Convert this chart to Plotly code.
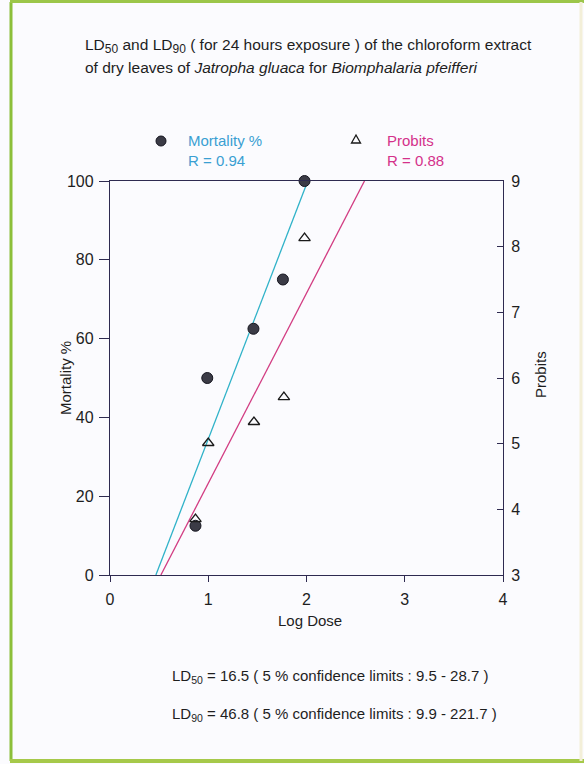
import plotly.graph_objects as go

# ---- data ----
log_dose = [0.87, 0.99, 1.46, 1.76, 1.98]
mortality = [12.5, 50, 62.5, 75, 100]
log_dose_p = [0.87, 1.0, 1.465, 1.77, 1.98]
probits = [3.85, 5.01, 5.33, 5.71, 8.13]
fit_mort_x = [0.467, 2.013]
fit_mort_y = [0, 100]
fit_prob_x = [0.518, 2.59]
fit_prob_y = [3, 9]
x_ticks = [0, 1, 2, 3, 4]
y_ticks = [0, 20, 40, 60, 80, 100]
y2_ticks = [3, 4, 5, 6, 7, 8, 9]

W, H = 584, 764
L, R, T, B = 110, 503, 181, 575
AX = "#2e2a50"
CYAN = "#2fb2c8"
PINK = "#d23c82"
TXT = "#1e1e1e"
FONT = "Liberation Sans, Arial, sans-serif"
FS = 15
TFS = 16


def px(x):
    return (x - L) / (R - L)


def py(y):
    return (B - y) / (B - T)


fig = go.Figure()
fig.add_trace(go.Scatter(x=fit_mort_x, y=fit_mort_y, mode="lines",
                         line=dict(color=CYAN, width=1.3), showlegend=False))
fig.add_trace(go.Scatter(x=fit_prob_x, y=fit_prob_y, mode="lines", yaxis="y2",
                         line=dict(color=PINK, width=1.3), showlegend=False))
fig.add_trace(go.Scatter(x=log_dose, y=mortality, mode="markers",
                         marker=dict(symbol="circle", size=11, color="#3b3b46",
                                     line=dict(color="#15151f", width=1)),
                         showlegend=False, cliponaxis=False))
fig.add_trace(go.Scatter(x=log_dose_p, y=probits, mode="markers", yaxis="y2",
                         marker=dict(symbol="triangle-up-open", size=10, color="#1a1a1a",
                                     line=dict(width=1.3)),
                         showlegend=False, cliponaxis=False))

big_sub = "<sub><span style='font-size:12px'>{}</span></sub>"


def ann(x, y, text, xanchor="center", size=FS, **kw):
    d = dict(x=px(x), y=py(y), xref="paper", yref="paper", xanchor=xanchor,
             yanchor="middle", text=text, showarrow=False,
             font=dict(size=size, color=kw.pop("color", TXT), family=FONT))
    d.update(kw)
    return d


annotations = [
    ann(83, 46, "LD" + big_sub.format("50") + " and LD" + big_sub.format("90")
        + " ( for 24 hours exposure ) of the chloroform extract", xanchor="left", size=15.5),
    ann(83, 68, "of dry leaves of <i>Jatropha gluaca</i> for <i>Biomphalaria pfeifferi</i>",
        xanchor="left", size=15.5),
    ann(186, 150, "Mortality %<br>R = 0.94", xanchor="left", align="left", color="#3a9fd2"),
    ann(385, 150, "Probits<br>R = 0.88", xanchor="left", align="left", color="#d4318a"),
    ann(65, 378, "Mortality %", textangle=-90),
    ann(540, 375, "Probits", textangle=-90),
    ann(310, 620, "Log Dose"),
    ann(170, 676, "LD<sub>50</sub> = 16.5 ( 5 % confidence limits : 9.5 - 28.7 )",
        xanchor="left"),
    ann(170, 714, "LD<sub>90</sub> = 46.8 ( 5 % confidence limits : 9.9 - 221.7 )",
        xanchor="left"),
]

# legend symbols (paper coords)
cx, cy, r = 161, 141, 5
tx, ty, tw, th = 356, 139, 9, 8
tri_path = "M {},{} L {},{} L {},{} Z".format(
    px(tx - tw / 2), py(ty + th / 2), px(tx + tw / 2), py(ty + th / 2), px(tx), py(ty - th / 2))

shapes = [
    dict(type="line", xref="paper", yref="paper", x0=px(11), x1=px(11), y0=py(2), y1=py(761),
         line=dict(color="#8cbf3a", width=3)),
    dict(type="line", xref="paper", yref="paper", x0=px(10), x1=px(584), y0=py(761), y1=py(761),
         line=dict(color="#a6c94a", width=4)),
    dict(type="line", xref="paper", yref="paper", x0=px(10), x1=px(584), y0=py(1.5), y1=py(1.5),
         line=dict(color="#9cc64a", width=3)),
    dict(type="line", xref="paper", yref="paper", x0=px(581), x1=px(581), y0=py(2), y1=py(761),
         line=dict(color="#f3efd8", width=3)),
    dict(type="circle", xref="paper", yref="paper", x0=px(cx - r), x1=px(cx + r),
         y0=py(cy + r), y1=py(cy - r), fillcolor="#3b3b46", line=dict(color="#15151f", width=1)),
    dict(type="path", xref="paper", yref="paper", path=tri_path,
         line=dict(color="#1a1a1a", width=1.3)),
]

fig.update_layout(
    width=W, height=H,
    margin=dict(l=L, r=W - R, t=T, b=H - B, autoexpand=False),
    paper_bgcolor="#fbfbfe", plot_bgcolor="#fbfbfe",
    font=dict(family=FONT, size=FS, color=TXT),
    showlegend=False,
    xaxis=dict(range=[0, 4], tickvals=x_ticks, ticks="outside", ticklen=6, tickcolor=AX,
               ticklabelstandoff=4,
               showline=True, linecolor=AX, linewidth=1.3, mirror=True, showgrid=False,
               zeroline=False, tickfont=dict(size=TFS)),
    yaxis=dict(range=[0, 100], tickvals=y_ticks, ticks="outside", ticklen=10, tickcolor=AX,
               ticklabelstandoff=2,
               showline=True, linecolor=AX, linewidth=1.3, showgrid=False, zeroline=False,
               tickfont=dict(size=TFS)),
    yaxis2=dict(range=[3, 9], tickvals=y2_ticks, overlaying="y", side="right",
                ticks="inside", ticklen=6, tickcolor=AX, ticklabelstandoff=4,
                showline=True, linecolor=AX,
                linewidth=1.3, showgrid=False, zeroline=False, tickfont=dict(size=TFS)),
    annotations=annotations,
    shapes=shapes,
)

fig.write_html("out.html", config={"displayModeBar": False},
               post_script="document.body.style.margin='0';")
